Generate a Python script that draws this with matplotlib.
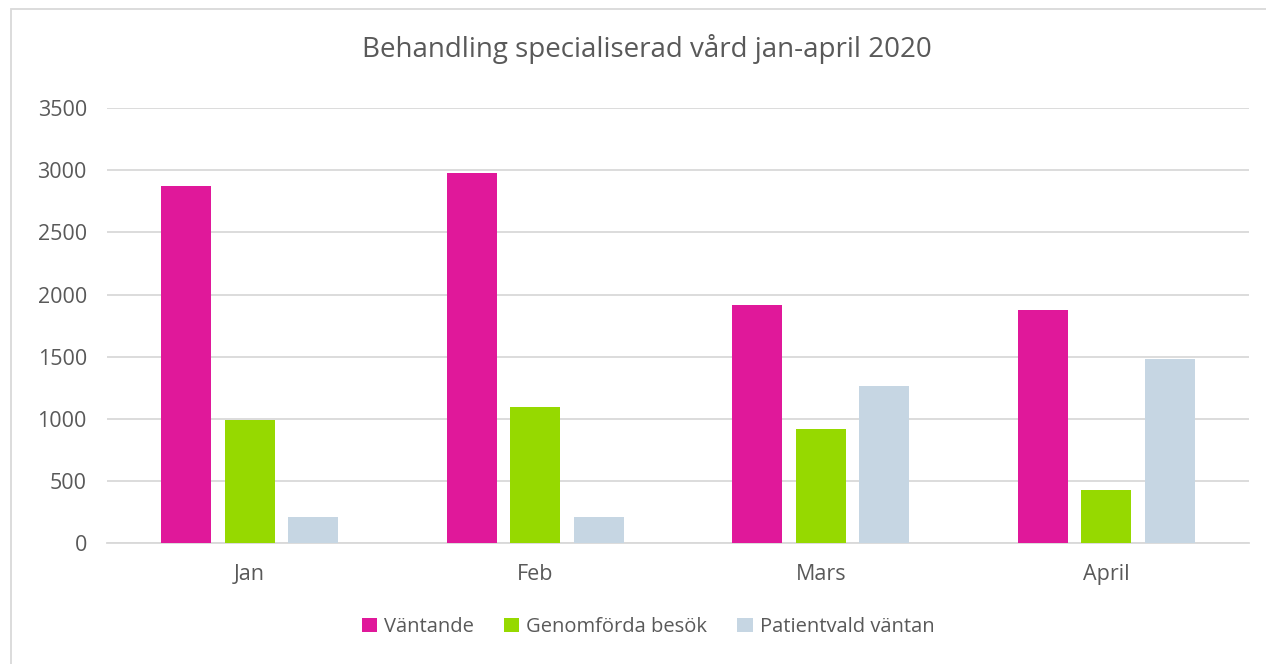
import matplotlib
matplotlib.use("Agg")
import matplotlib.pyplot as plt
import numpy as np
from matplotlib.patches import Rectangle

categories = ["Jan", "Feb", "Mars", "April"]
vantande = [2870, 2980, 1915, 1875]
genomforda = [990, 1095, 920, 430]
patientvald = [210, 210, 1265, 1480]
series_names = ["Väntande", "Genomförda besök", "Patientvald väntan"]
colors = ["#E0189A", "#96D900", "#C6D6E3"]
title = "Behandling specialiserad vård jan-april 2020"
yticks = [0, 500, 1000, 1500, 2000, 2500, 3000, 3500]

plt.rcParams['font.family'] = ['Open Sans', 'DejaVu Sans']
txt = "#595959"
grid = "#D9D9D9"

fig = plt.figure(figsize=(12.66, 6.64), dpi=100)
ax = fig.add_axes([107/1266, (664-543.3)/664, 1142/1266, 435.3/664])

x = np.arange(len(categories))
w = 0.175
off = 0.2225
for i, (vals, name, c) in enumerate(zip([vantande, genomforda, patientvald], series_names, colors)):
    ax.bar(x + (i-1)*off, vals, width=w, color=c, label=name, zorder=3)

ax.set_xlim(-0.5, len(categories)-0.5)
ax.set_ylim(0, 3500)
ax.set_yticks(yticks)
ax.set_yticklabels([str(t) for t in yticks])
ax.set_xticks(x)
ax.set_xticklabels(categories)
ax.yaxis.grid(True, color=grid, linewidth=1.3, zorder=0)
for s in ["top", "right", "left"]:
    ax.spines[s].set_visible(False)
ax.spines["bottom"].set_color(grid)
ax.spines["bottom"].set_linewidth(1.3)
ax.tick_params(axis='y', length=0, pad=14.5, labelsize=15.5, labelcolor=txt)
ax.tick_params(axis='x', length=0, pad=15, labelsize=15.5, labelcolor=txt)

fig.text(647/1266, 1-49/664, title, ha='center', va='center', fontsize=20, color=txt)

leg = fig.legend(loc='center', bbox_to_anchor=(648/1266, 1-627/664), ncol=3, frameon=False,
                 fontsize=14.5, handlelength=0.75, handleheight=0.75, handletextpad=0.35,
                 columnspacing=1.5, labelcolor=txt)

fig.patches.append(Rectangle((11/1266, -0.1), 1.2, 1-9/664+0.1, transform=fig.transFigure,
                             fill=False, edgecolor=grid, linewidth=1.3))

fig.savefig("out.png", dpi=100)
